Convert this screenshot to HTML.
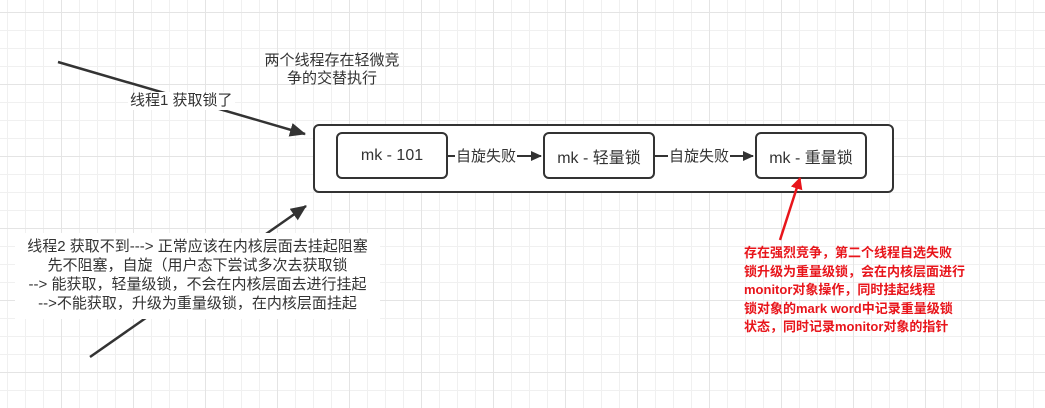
<!DOCTYPE html>
<html><head><meta charset="utf-8"><style>
html,body{margin:0;padding:0}
body{width:1045px;height:408px;position:relative;overflow:hidden;font-family:"Liberation Sans","Noto Sans CJK SC",sans-serif;
background-color:#fff;
background-image:
linear-gradient(to right,#e4e4e4 1px,transparent 1px),
linear-gradient(to bottom,#e4e4e4 1px,transparent 1px),
linear-gradient(to right,#f0f0f0 1px,transparent 1px),
linear-gradient(to bottom,#f0f0f0 1px,transparent 1px);
background-size:72px 72px,72px 72px,18px 18px,18px 18px;
background-position:61px 0,0 84px,7px 0,0 12px;}
.box{position:absolute;border:2px solid #333;border-radius:6px;background:#fff;box-sizing:border-box}
.in{display:flex;align-items:center;justify-content:center;font-size:16px;color:#333}
.t{position:absolute;color:#333;font-size:15px;text-align:center;line-height:18px;white-space:nowrap}
</style></head><body>
<svg width="1045" height="408" style="position:absolute;left:0;top:0">
<defs>
<marker id="a" markerWidth="16" markerHeight="14" refX="15" refY="7" orient="auto" markerUnits="userSpaceOnUse"><path d="M0,0 L16,7 L0,14 Z" fill="#333"/></marker>
</defs>
<line x1="58" y1="62" x2="305" y2="134" stroke="#333" stroke-width="2.5" marker-end="url(#a)"/>
<line x1="90" y1="357" x2="306" y2="206" stroke="#333" stroke-width="2.5" marker-end="url(#a)"/>
</svg>
<div class="box" style="left:313px;top:124px;width:581px;height:69px"></div>
<div class="box in" style="left:336px;top:132px;width:112px;height:47px">mk - 101</div>
<div class="box in" style="left:543px;top:132px;width:112px;height:47px">mk - 轻量锁</div>
<div class="box in" style="left:755px;top:132px;width:112px;height:47px">mk - 重量锁</div>
<svg width="1045" height="408" style="position:absolute;left:0;top:0">
<defs>
<marker id="r" markerWidth="12" markerHeight="12" refX="11" refY="6" orient="auto" markerUnits="userSpaceOnUse"><path d="M0,0 L12,6 L0,12 Z" fill="#e8151b"/></marker>
<marker id="c" markerWidth="11" markerHeight="10" refX="10" refY="5" orient="auto" markerUnits="userSpaceOnUse"><path d="M0,0 L11,5 L0,10 Z" fill="#333"/></marker>
</defs>
<line x1="448" y1="156" x2="541" y2="156" stroke="#333" stroke-width="2" marker-end="url(#c)"/>
<line x1="655" y1="156" x2="753" y2="156" stroke="#333" stroke-width="2" marker-end="url(#c)"/>
<line x1="780" y1="240" x2="800" y2="178" stroke="#e8151b" stroke-width="2.5" marker-end="url(#r)"/>
</svg>
<div class="t" style="left:455px;top:148px;background:#fff;padding:0 1px">自旋失败</div>
<div class="t" style="left:668px;top:148px;background:#fff;padding:0 1px">自旋失败</div>
<div class="t" style="left:250px;top:52px;width:164px">两个线程存在轻微竞<br>争的交替执行</div>
<div class="t" style="left:128px;top:92px;background:#fff;padding:0 2px">线程1 获取锁了</div>
<div class="t" style="left:15px;top:233px;width:365px;height:86px;background:#fff;padding-top:4px;box-sizing:border-box;line-height:19px">线程2 获取不到---&gt; 正常应该在内核层面去挂起阻塞<br>先不阻塞，自旋（用户态下尝试多次去获取锁<br>--&gt; 能获取，轻量级锁，不会在内核层面去进行挂起<br>--&gt;不能获取，升级为重量级锁，在内核层面挂起</div>
<div class="t" style="left:744px;top:244px;text-align:left;color:#e8151b;font-weight:bold;font-size:13px;line-height:18.5px">存在强烈竞争，第二个线程自选失败<br>锁升级为重量级锁，会在内核层面进行<br>monitor对象操作，同时挂起线程<br>锁对象的mark word中记录重量级锁<br>状态，同时记录monitor对象的指针</div>
</body></html>
